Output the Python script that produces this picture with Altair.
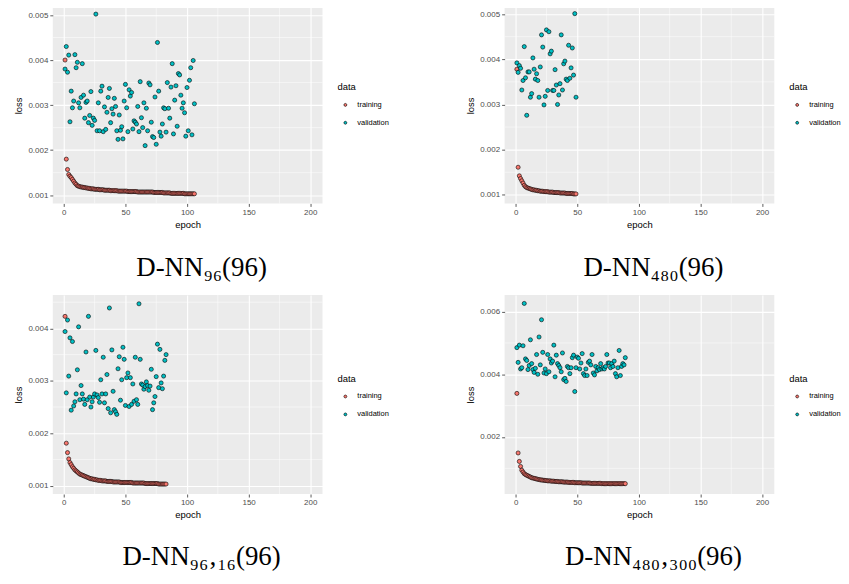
import altair as alt
import pandas as pd

SERIES = ["training", "validation"]
COLORS = ["#F8766D", "#00BFC4"]
X_TICKS = [0, 50, 100, 150, 200]
X_MINOR = [25, 75, 125, 175]
X_DOMAIN = [-8.95, 209.95]

# losses in units of 0.001
train1 = [4.00,1.80,1.57,1.46,1.42,1.39,1.35,1.31,1.27,1.24,
          1.21,1.20,1.19,1.18,1.18,1.17,1.17,1.16,1.16,1.15,
          1.15,1.14,1.14,1.14,1.13,1.13,1.13,1.13,1.12,1.12,
          1.12,1.12,1.11,1.11,1.11,1.11,1.11,1.10,1.10,1.10,
          1.10,1.10,1.10,1.09,1.09,1.09,1.09,1.09,1.09,1.09,
          1.09,1.08,1.08,1.08,1.08,1.08,1.08,1.08,1.08,1.07,
          1.07,1.07,1.07,1.07,1.07,1.07,1.07,1.07,1.07,1.07,
          1.07,1.07,1.06,1.06,1.06,1.06,1.06,1.06,1.06,1.06,
          1.05,1.05,1.05,1.05,1.05,1.05,1.04,1.04,1.04,1.04,
          1.04,1.04,1.04,1.04,1.04,1.04,1.04,1.03,1.03,1.03,
          1.03,1.03,1.03,1.03,1.03,1.03]
valid1 = [3.80,4.30,3.73,4.11,2.63,3.31,2.94,3.09,4.12,3.83,
          3.95,3.05,2.94,3.17,3.92,3.22,2.71,3.06,3.09,2.61,
          2.77,3.30,2.55,2.71,2.66,5.02,2.43,3.05,2.43,3.31,
          3.42,2.41,2.96,2.46,2.84,3.17,3.37,2.61,2.92,2.80,
          3.15,2.97,2.43,2.24,2.78,2.44,2.52,2.25,3.09,3.46,
          2.94,2.41,3.34,3.20,3.28,2.47,2.65,2.62,2.58,2.97,
          2.41,3.52,2.72,2.50,3.05,2.10,2.93,2.43,3.49,3.45,
          2.62,2.30,2.28,3.18,2.13,4.39,3.31,2.40,2.31,2.58,
          2.94,2.92,2.40,3.50,2.93,2.71,3.40,3.92,2.36,3.11,
          3.43,2.53,3.70,3.67,3.22,2.93,3.05,2.83,2.31,3.39,
          2.43,3.55,3.83,2.34,3.99,3.03]

train2 = [3.78,1.61,1.42,1.36,1.31,1.26,1.21,1.18,1.16,1.15,
          1.14,1.13,1.12,1.11,1.11,1.10,1.10,1.09,1.09,1.08,
          1.08,1.08,1.07,1.07,1.07,1.07,1.06,1.06,1.06,1.06,
          1.05,1.05,1.05,1.05,1.05,1.04,1.04,1.04,1.04,1.04,
          1.03,1.03,1.03,1.03,1.03,1.03,1.02,1.02,1.02]
valid2 = [3.92,3.71,3.86,3.80,3.32,3.53,4.28,3.59,2.76,3.72,
          3.72,3.16,3.24,4.03,3.78,3.56,3.68,3.53,3.16,3.83,
          4.54,4.27,2.99,3.18,4.65,3.31,4.61,4.12,4.18,3.31,
          3.31,3.77,3.43,3.00,3.21,3.46,4.54,3.32,3.90,3.96,
          3.56,3.53,4.31,3.58,3.81,4.25,3.65,5.01,3.16]

train3 = [4.23,1.81,1.63,1.51,1.44,1.40,1.36,1.33,1.30,1.28,
          1.26,1.24,1.22,1.21,1.20,1.19,1.18,1.17,1.16,1.15,
          1.14,1.13,1.13,1.12,1.12,1.11,1.11,1.10,1.10,1.10,
          1.09,1.09,1.09,1.09,1.08,1.08,1.08,1.08,1.08,1.07,
          1.07,1.07,1.07,1.07,1.07,1.06,1.06,1.06,1.06,1.06,
          1.06,1.06,1.06,1.06,1.06,1.05,1.05,1.05,1.05,1.05,
          1.05,1.05,1.05,1.05,1.05,1.04,1.04,1.04,1.04,1.04,
          1.04,1.04,1.04,1.04,1.04,1.04,1.03,1.03,1.03,1.03,
          1.03,1.03,1.03]
valid3 = [3.94,2.77,4.16,3.09,3.82,2.44,3.75,2.52,2.60,2.75,
          3.21,4.03,2.64,2.91,2.75,2.65,2.55,3.55,2.64,4.23,
          2.69,2.50,2.60,2.69,2.75,3.58,2.73,2.68,2.59,3.02,
          2.75,3.45,2.58,2.75,3.12,2.47,4.39,2.39,3.59,2.80,
          2.45,2.41,2.36,3.23,3.46,2.63,3.02,3.64,3.41,2.53,
          3.06,3.15,2.51,3.06,2.55,2.94,2.61,3.45,2.64,2.55,
          4.47,3.41,2.94,2.92,2.84,2.89,2.98,2.91,2.82,2.90,
          3.22,2.45,2.58,2.70,3.08,3.70,2.87,3.60,2.96,2.85,
          3.09,3.39,3.50]

train4 = [3.39,1.49,1.22,1.06,0.94,0.88,0.83,0.80,0.78,0.76,
          0.74,0.72,0.70,0.69,0.68,0.67,0.66,0.65,0.64,0.63,
          0.63,0.62,0.62,0.61,0.61,0.60,0.60,0.60,0.59,0.59,
          0.59,0.58,0.58,0.58,0.57,0.57,0.57,0.57,0.56,0.56,
          0.56,0.56,0.55,0.55,0.55,0.55,0.55,0.54,0.54,0.54,
          0.54,0.54,0.54,0.53,0.53,0.53,0.53,0.53,0.53,0.53,
          0.52,0.52,0.52,0.52,0.52,0.52,0.52,0.52,0.52,0.51,
          0.51,0.51,0.51,0.51,0.51,0.51,0.51,0.51,0.51,0.51,
          0.51,0.51,0.51,0.51,0.51,0.51,0.51,0.51,0.51]
valid4 = [4.85,4.38,4.93,4.17,4.21,4.91,6.26,4.49,4.44,4.15,
          4.28,5.10,4.34,4.15,4.06,4.19,4.63,4.00,5.19,4.30,
          5.74,4.70,4.04,4.17,4.02,4.63,4.08,4.49,4.36,4.42,
          4.93,3.92,4.61,4.34,4.28,4.21,4.08,4.68,3.83,3.87,
          3.77,4.25,4.21,4.02,4.21,4.53,4.61,3.45,4.21,4.55,
          4.51,4.17,4.36,4.66,4.02,3.96,4.17,3.96,4.38,4.42,
          4.30,4.63,4.04,3.98,4.25,4.11,4.21,4.15,4.34,4.17,
          4.21,4.17,4.25,4.63,4.36,4.36,4.21,4.34,4.25,4.42,
          4.02,3.92,4.21,4.76,3.96,4.25,4.34,4.30,4.53]

Y_TICKS_A = [0.001, 0.002, 0.003, 0.004, 0.005]
Y_MINOR_A = [0.0015, 0.0025, 0.0035, 0.0045]
Y_TICKS_B = [0.002, 0.004, 0.006]
Y_MINOR_B = [0.001, 0.003, 0.005]

CAPTIONS = ["D-NN\u2089\u2086(96)", "D-NN\u2084\u2088\u2080(96)",
            "D-NN\u2089\u2086\u201a\u2081\u2086(96)", "D-NN\u2084\u2088\u2080\u201a\u2083\u2080\u2080(96)"]

# small dot inside a full-size (invisible) key box so both legends lay out alike
DOT = "M-1,-1M1,1M-0.2,0A0.2,0.2,0,1,1,0.2,0A0.2,0.2,0,1,1,-0.2,0Z"
BOX = "M-1,-1L1,-1L1,1L-1,1Z"

TITLE_FS = 9.5
TITLE_PAD = 5


def panel(train, valid, ydom, yticks, yminor, caption, height, legend_y, cap_offset):
    n, m = len(train), len(valid)
    df = pd.DataFrame({
        "epoch": list(range(1, n + 1)) + list(range(1, m + 1)),
        "loss": [v / 1000 for v in train] + [v / 1000 for v in valid],
        "data": ["training"] * n + ["validation"] * m,
    })
    df["key"] = df["data"] + " "
    xs = alt.Scale(domain=X_DOMAIN, nice=False, zero=False)
    ys = alt.Scale(domain=ydom, nice=False, zero=False)
    xa = alt.Axis(values=X_TICKS, title="epoch")
    ya = alt.Axis(values=yticks, format=".3f", title="loss")
    X = alt.X("epoch:Q", scale=xs, axis=xa)
    Y = alt.Y("loss:Q", scale=ys, axis=ya)

    gx = alt.Chart(pd.DataFrame({"epoch": X_MINOR})).mark_rule(
        color="white", strokeWidth=0.5).encode(x=X)
    gy = alt.Chart(pd.DataFrame({"loss": yminor})).mark_rule(
        color="white", strokeWidth=0.5).encode(y=Y)

    common = dict(orient="none", legendX=286, symbolSize=225, rowPadding=0,
                  labelOffset=4, padding=0, labelFontSize=7.5,
                  labelFont="Liberation Sans", symbolOpacity=1)
    keys = alt.Chart(df).mark_point(opacity=0, size=0).encode(
        x=X, y=Y,
        shape=alt.Shape("key:N", scale=alt.Scale(domain=[s + " " for s in SERIES],
                                                 range=[BOX, BOX]),
                        legend=alt.Legend(title=None, legendY=legend_y + TITLE_FS + TITLE_PAD,
                                          symbolType=BOX, symbolFillColor="#F2F2F2",
                                          symbolStrokeWidth=0, symbolStrokeColor="transparent",
                                          labelExpr="''", zindex=0, **common)))
    pts = alt.Chart(df).mark_point(filled=True, size=17, stroke="black", strokeWidth=0.6,
                                   opacity=1).encode(
        x=X, y=Y,
        fill=alt.Fill("data:N", scale=alt.Scale(domain=SERIES, range=COLORS),
                      legend=alt.Legend(title="data", legendY=legend_y, titleFontSize=TITLE_FS,
                                        titlePadding=TITLE_PAD, titleFontWeight="normal",
                                        titleFont="Liberation Sans", titleColor="black",
                                        symbolType=DOT, symbolStrokeColor="black",
                                        symbolStrokeWidth=0.6, labelColor="black",
                                        zindex=1, **common)))
    return alt.layer(gx, gy, keys, pts).properties(
        width=271, height=height,
        title=alt.TitleParams(caption, orient="bottom", anchor="middle", frame="bounds",
                              font="Liberation Serif, DejaVu Serif", fontSize=27,
                              fontWeight="normal", color="black", offset=cap_offset,
                              baseline="top"))


p1 = panel(train1, valid1, [0.000817, 0.005170], Y_TICKS_A, Y_MINOR_A, CAPTIONS[0], 197, 75.5, 26)
p2 = panel(train2, valid2, [0.000810, 0.005149], Y_TICKS_A, Y_MINOR_A, CAPTIONS[1], 197, 75.5, 26)
p3 = panel(train3, valid3, [0.000840, 0.004638], Y_TICKS_A, Y_MINOR_A, CAPTIONS[2], 200, 79.5, 25)
p4 = panel(train4, valid4, [0.000180, 0.006530], Y_TICKS_B, Y_MINOR_B, CAPTIONS[3], 200, 79.5, 25)

row1 = alt.hconcat(p1, p2, spacing=76).resolve_scale(fill="independent", shape="independent")
row2 = alt.hconcat(p3, p4, spacing=76).resolve_scale(fill="independent", shape="independent")

chart = alt.vconcat(row1, row2, spacing=13).resolve_scale(
    fill="independent", shape="independent"
).properties(
    padding={"left": 5, "top": -3, "right": 0, "bottom": 0}
).configure_view(
    fill="#EBEBEB", stroke=None
).configure_axis(
    domain=False, grid=True, gridColor="white", gridWidth=1.1,
    tickColor="#333333", tickSize=3, tickWidth=0.8,
    labelColor="#4D4D4D", labelFontSize=8, labelFont="Liberation Sans",
    titleColor="black", titleFontSize=9.5, titleFont="Liberation Sans",
    titleFontWeight="normal", labelPadding=2
).configure_axisX(
    titlePadding=3
).configure_axisY(
    titlePadding=4
)

chart.save("out.html", embed_options={"renderer": "svg", "actions": False})
